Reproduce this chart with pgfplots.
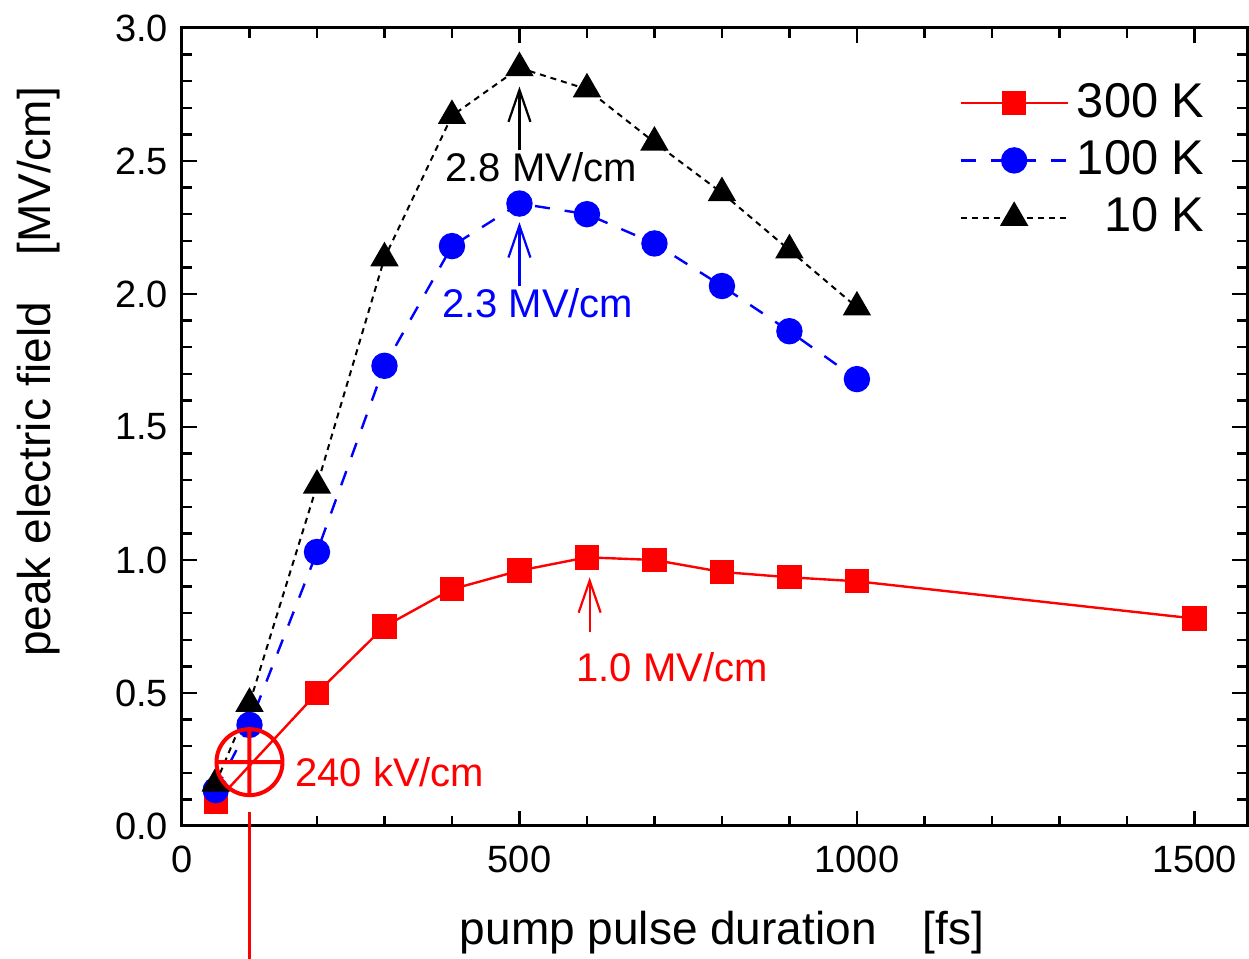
\documentclass[border=0pt]{standalone}
\usepackage{fontspec}
\setmainfont{Liberation Sans}
\setsansfont{Liberation Sans}
\usepackage{pgfplots}
\pgfplotsset{compat=1.18}
\usetikzlibrary{plotmarks,arrows.meta}

\begin{document}
\begin{tikzpicture}[
    barb/.style={-{Straight Barb[length=8pt,width=5.5pt]}, line width=0.55pt}]
\begin{axis}[
    scale only axis,
    width=266.25pt, height=199.5pt,
    xmin=0, xmax=1578, ymin=0, ymax=3,
    xtick={0,500,1000,1500}, minor x tick num=4,
    ytick={0,0.5,...,3}, minor y tick num=4,
    tick align=inside,
    major tick length=3.75pt, minor tick length=2.5pt,
    axis line style={line width=0.75pt},
    every tick/.style={line width=0.6pt, black},
    /pgf/number format/assume math mode=true,
    /pgf/number format/1000 sep={},
    yticklabel style={/pgf/number format/fixed, /pgf/number format/precision=1,
        /pgf/number format/fixed zerofill},
    tick label style={font=\fontsize{9.5}{11}\selectfont},
    xticklabel style={yshift=-1.5pt},
    xlabel={pump pulse duration\quad[fs]},
    ylabel={peak electric field\quad[MV/cm]},
    label style={font=\fontsize{11.5}{13}\selectfont},
    xlabel style={at={(axis description cs:0.507,-0.134)}, anchor=center},
    ylabel style={at={(axis description cs:-0.135,0.569)}, anchor=center, rotate=0},
    clip=false,
    legend cell align=right,
    legend style={draw=none, fill=none, font=\fontsize{12.2}{14}\selectfont,
        at={(axis description cs:0.718,0.952)}, anchor=north west,
        row sep=0.3pt},
    legend image code/.code={\draw[mark repeat=2,mark phase=2,#1] plot coordinates {(0cm,0cm) (0.47cm,0cm) (0.94cm,0cm)};},
]
\addplot[red, line width=0.6pt, mark=square*, mark size=2.75pt, mark options={solid}] coordinates {
    (50,0.09) (200,0.50) (300,0.75) (400,0.89) (500,0.96) (600,1.01)
    (700,1.00) (800,0.955) (900,0.935) (1000,0.92) (1500,0.78)
};
\addlegendentry{300 K}
\addplot[blue, line width=0.6pt, dash pattern=on 3.75pt off 3.75pt, mark=*, mark size=3pt, mark options={solid}] coordinates {
    (50,0.135) (100,0.38) (200,1.03) (300,1.73) (400,2.18) (500,2.34)
    (600,2.30) (700,2.19) (800,2.03) (900,1.86) (1000,1.68)
};
\addlegendentry{100 K}
\addplot[black, line width=0.5pt, dash pattern=on 1.5pt off 1.25pt, mark=triangle*, mark size=3.6pt, mark options={solid}] coordinates {
    (50,0.16) (100,0.46) (200,1.28) (300,2.135) (400,2.67) (500,2.85)
    (600,2.77) (700,2.57) (800,2.38) (900,2.165) (1000,1.95)
};
\addlegendentry{10 K}
\addplot[red, line width=1pt, mark=oplus, mark size=8.25pt, only marks, forget plot] coordinates {(100,0.24)};

\draw[red, line width=0.6pt] (axis cs:100,0.053) -- (axis cs:100,-0.52);
\draw[barb, black] (axis cs:500,2.54) -- (axis cs:500,2.78);
\draw[barb, blue] (axis cs:500,2.03) -- (axis cs:500,2.27);
\draw[barb, red] (axis cs:604,0.73) -- (axis cs:604,0.935);
\node[font=\fontsize{10}{12}\selectfont, black] at (axis cs:532,2.477) {2.8 MV/cm};
\node[font=\fontsize{10}{12}\selectfont, blue] at (axis cs:527,1.966) {2.3 MV/cm};
\node[font=\fontsize{10}{12}\selectfont, red] at (axis cs:726,0.598) {1.0 MV/cm};
\node[font=\fontsize{10}{12}\selectfont, red] at (axis cs:308,0.203) {240 kV/cm};
\end{axis}
\pgfresetboundingbox
\path ([xshift=-45.5pt,yshift=-33.25pt]current axis.south west) rectangle ([xshift=0.5pt,yshift=7pt]current axis.north east);
\end{tikzpicture}
\end{document}
